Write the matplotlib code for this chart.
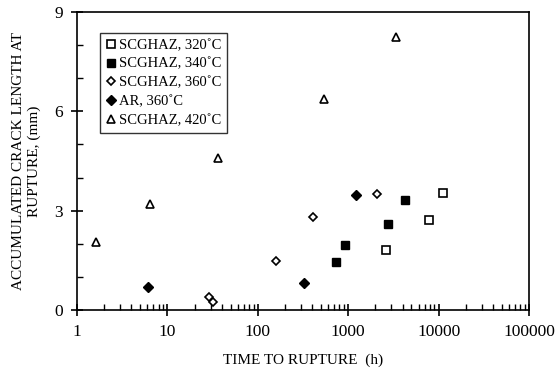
import numpy as np
import matplotlib.pyplot as plt
from matplotlib.ticker import LogLocator, MultipleLocator, FixedLocator

plt.rcParams['font.family'] = ['Liberation Serif', 'DejaVu Serif']

# SCGHAZ, 320C (open squares)
t_320 = [2620, 7760, 11070]
a_320 = [1.81, 2.73, 3.53]
# SCGHAZ, 340C (filled squares)
t_340 = [738, 913, 2730, 4250]
a_340 = [1.45, 1.97, 2.59, 3.31]
# SCGHAZ, 360C (open diamonds)
t_360 = [29, 31.9, 161, 408, 2100]
a_360 = [0.40, 0.24, 1.47, 2.81, 3.49]
# AR, 360C (filled diamonds)
t_ar = [6.04, 321, 1230]
a_ar = [0.70, 0.81, 3.47]
# SCGHAZ, 420C (open triangles)
t_420 = [1.62, 6.36, 36.5, 535, 3380]
a_420 = [2.05, 3.20, 4.60, 6.37, 8.26]

fig = plt.figure(figsize=(5.59, 3.74), dpi=100)
ax = fig.add_axes([77 / 559, 1 - 310 / 374, 452 / 559, 298 / 374])

ax.plot(t_320, a_320, 's', ls='none', mfc='white', mec='black', mew=1.2, ms=5.5,
        label='SCGHAZ, 320\u02daC')
ax.plot(t_340, a_340, 's', ls='none', mfc='black', mec='black', ms=6,
        label='SCGHAZ, 340\u02daC')
ax.plot(t_360, a_360, 'D', ls='none', mfc='white', mec='black', mew=1.2, ms=4.2,
        label='SCGHAZ, 360\u02daC')
ax.plot(t_ar, a_ar, 'D', ls='none', mfc='black', mec='black', ms=4.6,
        label='AR, 360\u02daC')
ax.plot(t_420, a_420, '^', ls='none', mfc='white', mec='black', mew=1.2, ms=6,
        label='SCGHAZ, 420\u02daC')

ax.set_xscale('log')
ax.set_xlim(1, 100000)
ax.set_ylim(0, 9)
ax.xaxis.set_minor_locator(LogLocator(base=10, subs=np.arange(2, 10), numticks=10))
ax.set_xticks([1, 10, 100, 1000, 10000, 100000])
ax.set_xticklabels(['1', '10', '100', '1000', '10000', '100000'])
ax.yaxis.set_major_locator(MultipleLocator(3))
ax.yaxis.set_minor_locator(FixedLocator([1, 2, 4, 5, 7, 8]))

ax.tick_params(which='major', direction='inout', length=8, width=1.2, labelsize=12.5)
ax.tick_params(which='minor', direction='in', length=4, width=1.0)
ax.tick_params(axis='x', which='major', pad=6)
ax.tick_params(axis='y', which='major', pad=6)
for s in ax.spines.values():
    s.set_linewidth(1.2)

ax.set_xlabel('TIME TO RUPTURE  (h)', fontsize=11, labelpad=10)
ax.set_ylabel('ACCUMULATED CRACK LENGTH AT\nRUPTURE, (mm)', fontsize=11, labelpad=10)

leg = ax.legend(loc='upper left', bbox_to_anchor=(0.05, 0.93), fontsize=10.5,
                frameon=True, fancybox=False, edgecolor='black', handlelength=0.7,
                handletextpad=0.2, borderpad=0.4, labelspacing=0.38, borderaxespad=0)
leg.get_frame().set_linewidth(1.0)

fig.savefig('out.png', dpi=100)
